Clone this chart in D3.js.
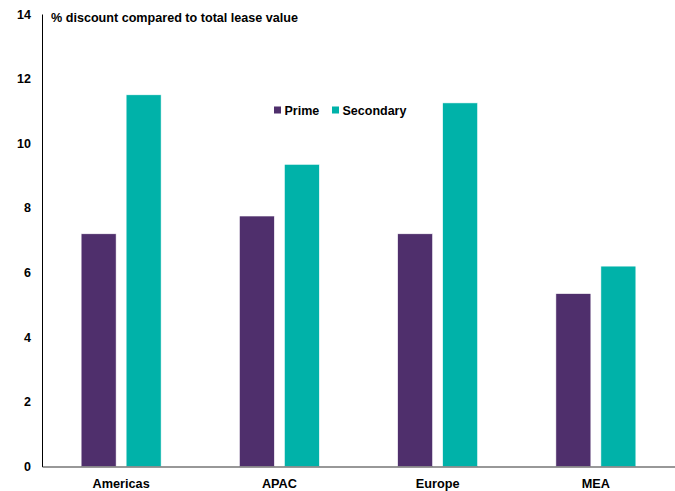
<!DOCTYPE html>
<html>
<head>
<meta charset="utf-8">
<script src="https://cdn.jsdelivr.net/npm/d3@7"></script>
<style>
  html, body { margin: 0; padding: 0; background: #fff; }
  svg { display: block; }
  text { font-family: "Liberation Sans", Arial, sans-serif; font-weight: bold; fill: #000; }
</style>
</head>
<body>
<svg id="chart" width="675" height="491"></svg>
<script>
// Regions along the x axis
const regions = ["Americas", "APAC", "Europe", "MEA"];
// Discount (% of total lease value) per region
const primeValues = [7.2, 7.75, 7.2, 5.35];
const secondaryValues = [11.5, 9.35, 11.25, 6.2];
// Series names and y-axis ticks
const seriesNames = ["Prime", "Secondary"];
const yTicks = [0, 2, 4, 6, 8, 10, 12, 14];
const axisTitle = "% discount compared to total lease value";

const colors = { Prime: "#4f2f6c", Secondary: "#00b2a9" };

const rows = regions.map((r, i) => ({ region: r, Prime: primeValues[i], Secondary: secondaryValues[i] }));

const svg = d3.select("#chart");
const plot = { left: 42, right: 675, top: 14, bottom: 466.5 };

const x = d3.scaleBand().domain(regions).range([plot.left, plot.right]).paddingInner(0).paddingOuter(0);
const y = d3.scaleLinear().domain([0, 14]).range([plot.bottom, plot.top]);

// Two bars per region, 35px wide with a 10px gap, centred in the band
const barW = 35, gap = 10;
const xs = d3.scaleOrdinal().domain(seriesNames)
  .range([-(barW + gap / 2), gap / 2]);

const g = svg.append("g");
rows.forEach(row => {
  const cx = x(row.region) + x.bandwidth() / 2;
  g.selectAll(null)
    .data(seriesNames.map(s => ({ s, v: row[s] })))
    .join("rect")
    .attr("x", d => cx + xs(d.s))
    .attr("y", d => y(d.v))
    .attr("width", barW)
    .attr("height", d => y(0) - y(d.v))
    .attr("fill", d => colors[d.s])
    .attr("stroke", "#ffffff")
    .attr("stroke-width", 0.6);
});

// Y axis
const yAxis = d3.axisLeft(y).tickValues(yTicks).tickSize(0).tickPadding(11).tickFormat(d3.format("d"));
const ya = svg.append("g").attr("transform", `translate(${plot.left},0)`).call(yAxis);
ya.select(".domain").attr("stroke", "#000").attr("stroke-width", 1);
ya.selectAll("text").style("font-size", "12.5px").style("font-family", "Liberation Sans, Arial, sans-serif").style("font-weight", "bold");

// X axis
const xAxis = d3.axisBottom(x).tickSize(0).tickPadding(12);
const xa = svg.append("g").attr("transform", `translate(0,${plot.bottom})`).call(xAxis);
xa.select(".domain").attr("stroke", "#333").attr("stroke-width", 1.2);
xa.selectAll("text").style("font-size", "12.7px").style("font-family", "Liberation Sans, Arial, sans-serif").style("font-weight", "bold");

// Axis title
svg.append("text").attr("x", 51).attr("y", 22).style("font-size", "12.6px").text(axisTitle);

// Legend
const legendPos = [{ x: 274 }, { x: 332 }];
const lg = svg.append("g");
seriesNames.forEach((s, i) => {
  lg.append("rect").attr("x", legendPos[i].x).attr("y", 106.5).attr("width", 7).attr("height", 7).attr("fill", colors[s]);
  lg.append("text").attr("x", legendPos[i].x + 10.5).attr("y", 115).style("font-size", "12.5px").text(s);
});
</script>
</body>
</html>
